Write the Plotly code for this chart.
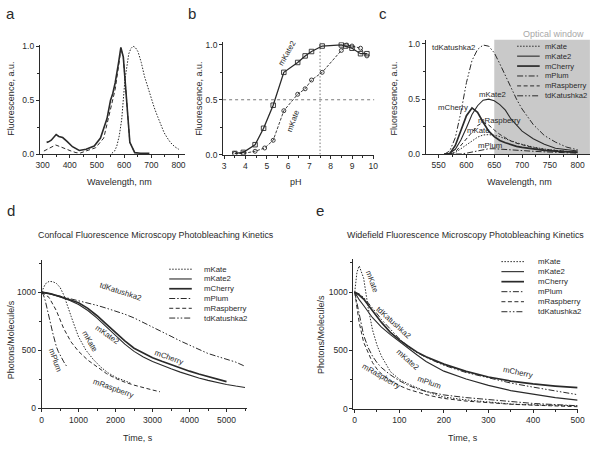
import plotly.graph_objects as go

# ---------- panel a: excitation / emission spectra
a_wl_ex1 = [315, 322, 332, 342, 350, 360, 374, 390, 410, 435, 460, 490, 513, 537, 550, 558, 567, 579, 588, 597, 609, 621, 639, 660, 693]
a_ex1 = [0.11, 0.115, 0.13, 0.16, 0.183, 0.165, 0.155, 0.12, 0.07, 0.035, 0.046, 0.076, 0.15, 0.33, 0.5, 0.56, 0.66, 0.84, 0.99, 0.9, 0.47, 0.11, 0.015, 0.01, 0.01]
a_wl_ex2 = [305, 320, 335, 348, 365, 386, 405, 423, 440, 459, 495, 525, 549, 567, 581, 588, 597, 609, 621, 639]
a_ex2 = [0.03, 0.05, 0.07, 0.086, 0.07, 0.046, 0.03, 0.015, 0.012, 0.03, 0.06, 0.15, 0.41, 0.6, 0.84, 0.98, 0.9, 0.47, 0.11, 0.015]
a_wl_em = [555, 565, 573, 582, 591, 603, 617, 625, 633, 641, 651, 663, 675, 687, 699, 711, 723, 735, 747, 759, 771, 786, 801]
a_em = [0.01, 0.03, 0.076, 0.17, 0.32, 0.69, 0.93, 0.98, 1.0, 0.99, 0.95, 0.85, 0.72, 0.62, 0.52, 0.43, 0.35, 0.27, 0.2, 0.15, 0.107, 0.07, 0.046]

# ---------- panel b: pH dependence
b_ph_kate2 = [3.5, 3.9, 4.45, 4.85, 5.3, 5.8, 6.45, 6.8, 7.1, 7.6, 8.5, 8.7, 9.0, 9.4, 9.7]
b_kate2 = [0.01, 0.02, 0.09, 0.24, 0.45, 0.75, 0.84, 0.9, 0.94, 0.99, 1.0, 0.99, 0.97, 0.92, 0.92]
b_ph_kate = [3.5, 3.9, 4.45, 4.9, 5.3, 5.8, 6.45, 6.8, 7.1, 7.6, 8.5, 8.75, 9.0, 9.4, 9.7]
b_kate = [0.01, 0.01, 0.03, 0.06, 0.13, 0.4, 0.55, 0.6, 0.68, 0.75, 0.95, 1.0, 0.99, 0.97, 0.9]
b_ph_mark = 7.5
b_half = 0.5

# ---------- panel c: emission in optical window
c_wl = [560, 570, 580, 590, 600, 610, 620, 630, 640, 650, 660, 670, 680, 690, 700, 720, 740, 760, 780, 800]
c_mkate = [0, 0, 0.015, 0.05, 0.08, 0.12, 0.155, 0.175, 0.178, 0.172, 0.16, 0.14, 0.12, 0.105, 0.09, 0.065, 0.047, 0.035, 0.026, 0.02]
c_mkate2 = [0, 0.01, 0.045, 0.13, 0.24, 0.36, 0.44, 0.49, 0.5, 0.485, 0.45, 0.4, 0.32, 0.26, 0.21, 0.14, 0.09, 0.055, 0.04, 0.03]
c_mcherry = [0, 0.005, 0.08, 0.22, 0.35, 0.42, 0.38, 0.29, 0.21, 0.16, 0.125, 0.105, 0.085, 0.072, 0.062, 0.047, 0.036, 0.028, 0.022, 0.018]
c_mplum = [0, 0, 0, 0.003, 0.01, 0.02, 0.03, 0.042, 0.05, 0.05, 0.046, 0.042, 0.038, 0.035, 0.032, 0.027, 0.022, 0.017, 0.013, 0.01]
c_mrasp = [0, 0, 0.02, 0.08, 0.145, 0.21, 0.26, 0.29, 0.265, 0.22, 0.18, 0.15, 0.12, 0.1, 0.085, 0.06, 0.044, 0.033, 0.025, 0.02]
c_tdkat = [0, 0.03, 0.15, 0.38, 0.65, 0.85, 0.95, 0.99, 0.98, 0.92, 0.82, 0.71, 0.6, 0.5, 0.41, 0.27, 0.17, 0.11, 0.065, 0.04]
c_window = [650, 822]

# ---------- panel d: confocal photobleaching
d_t = [0, 250, 500, 750, 1000, 1250, 1500, 1750, 2000, 2250, 2500, 2750, 3000, 3250, 3500, 3750, 4000, 4250, 4500, 4750, 5000, 5250, 5500]
d_tdkat = [1000, 985, 965, 945, 927, 909, 886, 862, 837, 810, 778, 740, 700, 660, 620, 580, 542, 505, 472, 447, 423, 398, 362]
d_mkate2 = [1000, 985, 958, 930, 893, 842, 776, 700, 624, 552, 490, 442, 403, 370, 340, 312, 285, 262, 241, 222, 206, 192, 180]
d_t_cherry = d_t[:21]
d_mcherry = [1000, 985, 962, 938, 908, 860, 797, 724, 650, 580, 518, 474, 436, 405, 375, 347, 320, 296, 272, 250, 230]
d_t_kate = [0, 100, 200, 300, 400, 500, 600, 700, 800, 900, 1000, 1200, 1400, 1600, 1800, 2000, 2200, 2400]
d_mkate = [1000, 1070, 1092, 1090, 1075, 1040, 975, 890, 790, 700, 615, 500, 420, 355, 305, 268, 240, 218]
d_t_rasp = [0, 200, 400, 600, 800, 1000, 1250, 1500, 1750, 2000, 2250, 2500, 2750, 3000, 3200]
d_mrasp = [1000, 955, 840, 685, 570, 490, 415, 355, 300, 258, 225, 200, 177, 158, 143]
d_t_plum = [0, 50, 100, 150, 200, 250, 300, 350, 400, 450, 500, 550, 600, 650, 700]
d_mplum = [1000, 975, 925, 865, 795, 720, 650, 580, 530, 490, 455, 425, 400, 375, 352]

# ---------- panel e: widefield photobleaching
e_t = [0, 5, 10, 20, 30, 40, 50, 60, 80, 100, 120, 140, 160, 180, 200, 250, 300, 350, 400, 450, 500]
e_mkate = [1000, 1170, 1225, 1120, 870, 675, 545, 450, 318, 252, 212, 178, 148, 122, 100, 75, 58, 40, 33, 28, 25]
e_mkate2 = [1000, 965, 935, 885, 830, 780, 740, 700, 635, 575, 515, 460, 405, 360, 322, 255, 200, 155, 122, 95, 73]
e_mcherry = [1000, 990, 975, 940, 892, 840, 790, 740, 655, 590, 535, 485, 445, 410, 382, 320, 272, 237, 212, 194, 180]
e_mplum = [1000, 905, 800, 630, 525, 450, 395, 352, 290, 240, 200, 170, 148, 130, 118, 95, 78, 62, 45, 35, 25]
e_mrasp = [1000, 870, 740, 570, 475, 395, 340, 298, 240, 198, 166, 140, 120, 103, 88, 65, 50, 38, 30, 23, 17]
e_tdkat = [1000, 995, 985, 955, 910, 865, 815, 765, 680, 600, 535, 480, 440, 405, 372, 310, 262, 220, 185, 150, 120]

names = ["mKate", "mKate2", "mCherry", "mPlum", "mRaspberry", "tdKatushka2"]

INK = "#2a2a2a"
FONT = "Liberation Sans, Arial, sans-serif"
W, H = 600, 451

styles = {
    "mKate": dict(color=INK, width=1, dash="1.5px,1.5px"),
    "mKate2": dict(color=INK, width=1.1),
    "mCherry": dict(color=INK, width=1.7),
    "mPlum": dict(color=INK, width=1, dash="6px,2px,1.5px,2px"),
    "mRaspberry": dict(color=INK, width=1, dash="4px,2.5px"),
    "tdKatushka2": dict(color=INK, width=1, dash="6px,2px,1.5px,2px,1.5px,2px"),
}


def fx(p):
    return p / W


def fy(p):
    return 1 - p / H


def line(x, y, style, ax):
    fig.add_trace(go.Scatter(x=x, y=y, mode="lines", line=style,
                             xaxis="x" + ax, yaxis="y" + ax, showlegend=False, hoverinfo="skip"))


fig = go.Figure()

# panel a
line(a_wl_ex2, a_ex2, styles["mRaspberry"], "")
line(a_wl_ex1, a_ex1, dict(color=INK, width=1.6), "")
line(a_wl_em, a_em, styles["mKate"], "")

# panel b
fig.add_trace(go.Scatter(x=b_ph_kate, y=b_kate, mode="lines+markers", xaxis="x2", yaxis="y2",
                         line=dict(color=INK, width=0.9, dash="3px,1.5px"),
                         marker=dict(symbol="circle-open", size=4, color=INK, line=dict(width=0.9)),
                         showlegend=False))
fig.add_trace(go.Scatter(x=b_ph_kate2, y=b_kate2, mode="lines+markers", xaxis="x2", yaxis="y2",
                         line=dict(color=INK, width=1.3),
                         marker=dict(symbol="square-open", size=4.5, color=INK, line=dict(width=0.9)),
                         showlegend=False))

# panel c
for n, v in zip(names, [c_mkate, c_mkate2, c_mcherry, c_mplum, c_mrasp, c_tdkat]):
    line(c_wl, v, styles[n], "3")

# panel d
for n, t, v in [("mKate", d_t_kate, d_mkate), ("mKate2", d_t, d_mkate2), ("mCherry", d_t_cherry, d_mcherry),
                ("mPlum", d_t_plum, d_mplum), ("mRaspberry", d_t_rasp, d_mrasp), ("tdKatushka2", d_t, d_tdkat)]:
    line(t, v, styles[n], "4")

# panel e
for n, v in zip(names, [e_mkate, e_mkate2, e_mcherry, e_mplum, e_mrasp, e_tdkat]):
    line(e_t, v, styles[n], "5")


def axis(dom, rng, dtick, mdtick, anchor, fmt=None, tick0=0):
    return dict(domain=dom, range=rng, dtick=dtick, tick0=tick0, anchor=anchor,
                showline=True, linecolor=INK, linewidth=1, mirror=False,
                ticks="outside", ticklen=3, tickwidth=0.8, tickcolor=INK,
                showgrid=False, zeroline=False, tickformat=fmt,
                tickfont=dict(size=8.5, color=INK, family=FONT),
                minor=dict(dtick=mdtick, tick0=tick0, ticks="outside", ticklen=2,
                           tickwidth=0.8, tickcolor=INK, showgrid=False))


fig.update_layout(
    width=W, height=H, margin=dict(l=0, r=0, t=0, b=0),
    paper_bgcolor="white", plot_bgcolor="white",
    font=dict(family=FONT, color=INK, size=8),
    xaxis=axis([fx(36.5), fx(184.7)], [290, 825], 100, 50, "y", tick0=300),
    yaxis=axis([fy(154), fy(42.4)], [0, 1.015], 0.5, 0.25, "x", ".1f"),
    xaxis2=axis([fx(223.2), fx(377.3)], [2.95, 10.05], 1, 0.5, "y2", tick0=3),
    yaxis2=axis([fy(154.3), fy(39.9)], [0, 1.025], 0.5, 0.25, "x2", ".1f"),
    xaxis3=axis([fx(429.7), fx(596.9)], [527, 822], 50, 25, "y3", tick0=550),
    yaxis3=axis([fy(154), fy(37.2)], [0, 1.04], 0.5, 0.25, "x3", ".1f"),
    xaxis4=axis([fx(38.3), fx(247.4)], [0, 5550], 1000, 500, "y4"),
    yaxis4=axis([fy(412.7), fy(261.2)], [0, 1280], 500, 250, "x4"),
    xaxis5=axis([fx(355.9), fx(584.3)], [-3, 500], 100, 50, "y5"),
    yaxis5=axis([fy(413), fy(261.1)], [0, 1280], 500, 250, "x5"),
)

shapes = [
    dict(type="rect", xref="x3", yref="y3", x0=c_window[0], x1=c_window[1], y0=0, y1=1.04,
         fillcolor="#c9c9c9", line=dict(width=0), layer="below"),
    dict(type="line", xref="x2", yref="y2", x0=2.95, x1=10.05, y0=b_half, y1=b_half,
         line=dict(color="#555", width=0.8, dash="3px,3px"), layer="below"),
    dict(type="line", xref="x2", yref="y2", x0=b_ph_mark, x1=b_ph_mark, y0=0, y1=1.025,
         line=dict(color="#666", width=0.9, dash="1.5px,2px"), layer="below"),
]

ann = []


def text(x, y, s, size=8, xref="paper", yref="paper", angle=0, xanchor="center", color=INK):
    ann.append(dict(x=x, y=y, text=s, xref=xref, yref=yref, showarrow=False, textangle=angle,
                    xanchor=xanchor, yanchor="middle", borderpad=0,
                    font=dict(size=size, color=color, family=FONT)))


# panel letters
for s, x, y in [("a", 7, 11), ("b", 192, 11), ("c", 386, 11), ("d", 7, 211), ("e", 322, 211)]:
    text(fx(x), fy(y), s, size=15)

# axis titles
TS = 9
text(fx(118), fy(182), "Wavelength, nm", TS)
text(fx(7.5), fy(97), "Fluorescence, a.u.", TS, angle=-90)
text(fx(297), fy(182), "pH", TS)
text(fx(199), fy(97), "Fluorescence, a.u.", TS, angle=-90)
text(fx(525), fy(182), "Wavelength, nm", TS)
text(fx(397.5), fy(97), "Fluorescence, a.u.", TS, angle=-90)
text(fx(137), fy(443), "Time, s", TS)
text(fx(7.5), fy(343), "Photons/Molecule/s", TS, angle=-90)
text(fx(468), fy(443), "Time, s", TS)
text(fx(323), fy(338), "Photons/Molecule/s", TS, angle=-90)
text(fx(155), fy(236), "Confocal Fluorescence Microscopy Photobleaching Kinetics", 8.9)
text(fx(470), fy(236), "Widefield Fluorescence Microscopy Photobleaching Kinetics", 8.9)
text(fx(560), fy(32), "Optical window", TS, color="#a8a8a8")

# curve labels
LS = 7.8
for s, x, y, a in [("mKate2", 5.95, 0.92, -60), ("mKate", 6.26, 0.307, -70)]:
    text(x, y, s, LS, "x2", "y2", a)
for s, x, y in [("tdKatushka2", 577, 0.97), ("mKate2", 646, 0.546), ("mCherry", 575, 0.42),
                ("mRaspberry", 660, 0.31), ("mKate", 621, 0.22), ("mPlum", 642, 0.08)]:
    text(x, y, s, LS, "x3", "y3")
for s, x, y, a in [("tdKatushka2", 2123, 1008, 18), ("mKate2", 1770, 637, 35), ("mKate", 1300, 572, 60),
                   ("mCherry", 3450, 437, 20), ("mPlum", 355, 417, 70), ("mRaspberry", 1948, 169, 20)]:
    text(x, y, s, LS, "x4", "y4", a)
for s, x, y, a in [("mKate", 39, 1093, 70), ("tdKatushka2", 87, 741, 42), ("mKate2", 118, 419, 42),
                   ("mPlum", 167, 222, 20), ("mRaspberry", 61, 278, 30), ("mCherry", 367, 314, 12)]:
    text(x, y, s, LS, "x5", "y5", a)


# compact legends (sample line + label)
def legend(x0, y0, step, x_text, size):
    for i, n in enumerate(names):
        yy = fy(y0 + i * step)
        shapes.append(dict(type="line", xref="paper", yref="paper", x0=fx(x0), x1=fx(x0 + 23),
                           y0=yy, y1=yy, line=styles[n]))
        text(fx(x_text), yy, n, size, xanchor="left")


legend(522.7, 44, 10.1, 550.5, 7.6)
legend(168.3, 271, 9.95, 203, 7.8)
legend(506.7, 263.3, 10.2, 542.7, 7.8)

fig.update_layout(shapes=shapes, annotations=ann)
fig.write_html("out.html", config={"displayModeBar": False},
               post_script="document.body.style.margin='0';")
